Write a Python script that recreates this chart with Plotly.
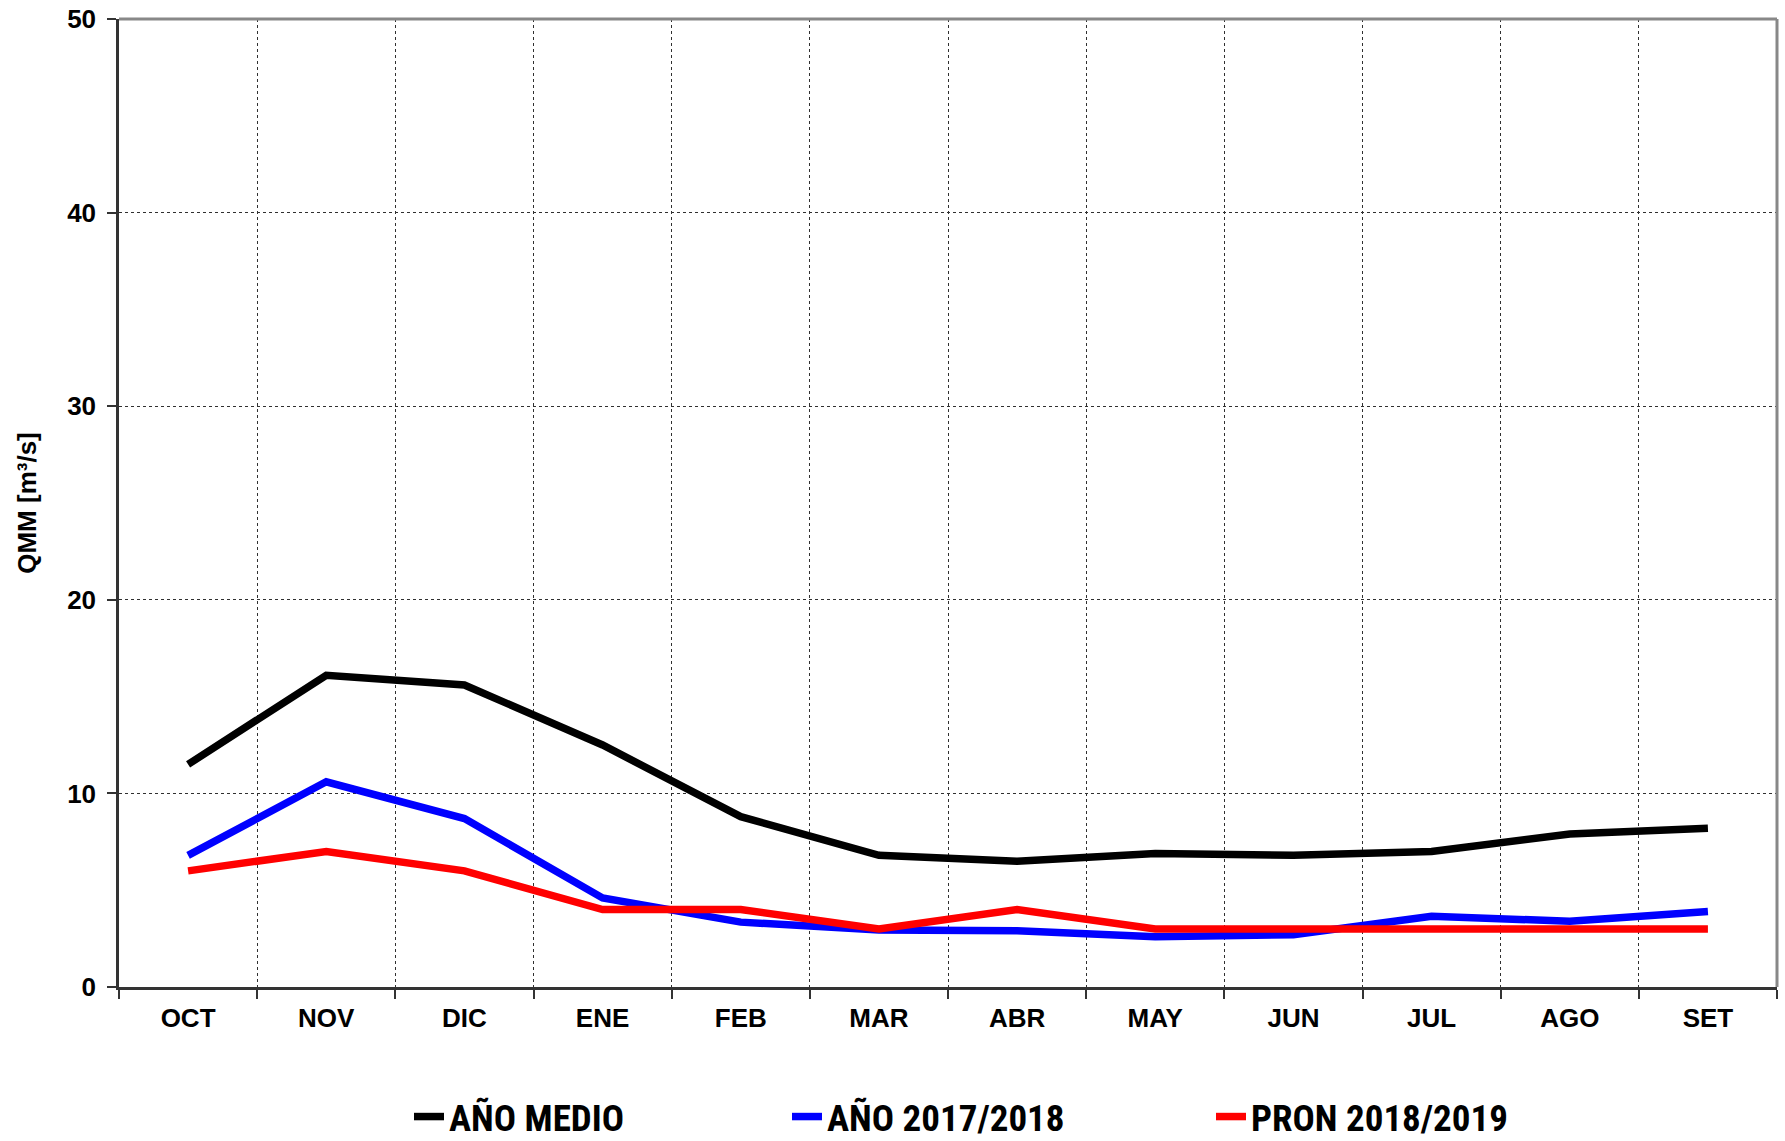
import plotly.graph_objects as go

months = ["OCT", "NOV", "DIC", "ENE", "FEB", "MAR", "ABR", "MAY", "JUN", "JUL", "AGO", "SET"]
ano_medio = [11.5, 16.1, 15.6, 12.5, 8.8, 6.8, 6.5, 6.9, 6.8, 7.0, 7.9, 8.2]
ano_2017_2018 = [6.8, 10.6, 8.7, 4.6, 3.35, 2.95, 2.9, 2.6, 2.7, 3.65, 3.4, 3.9]
pron_2018_2019 = [6.0, 7.0, 6.0, 4.0, 4.0, 3.0, 4.0, 3.0, 3.0, 3.0, 3.0, 3.0]
y_ticks = [0, 10, 20, 30, 40, 50]

W, H = 1785, 1141
ML, MR, MT, MB = 119, 8, 19, 154
PW = W - ML - MR
PH = H - MT - MB

series = [
    ("AÑO MEDIO", ano_medio, "#000000", "legend", 453),
    ("AÑO 2017/2018", ano_2017_2018, "#0000FF", "legend2", 831),
    ("PRON 2018/2019", pron_2018_2019, "#FF0000", "legend3", 1255),
]

fig = go.Figure()
legend_font = dict(family="Roboto Condensed, Liberation Sans Narrow, sans-serif", size=37, color="#000000", weight="bold")
for name, vals, color, lg, _ in series:
    fig.add_trace(go.Scatter(
        x=months, y=vals, mode="lines", name=name,
        line=dict(color=color, width=7.5), legend=lg,
    ))

layout_legends = {}
for name, vals, color, lg, text_x in series:
    layout_legends[lg] = dict(
        orientation="h", x=(text_x - 44 - ML) / PW, xanchor="left",
        y=-(1117 - (H - MB)) / PH, yanchor="middle",
        font=legend_font, bgcolor="rgba(0,0,0,0)", borderwidth=0,
        itemwidth=30, tracegroupgap=0,
    )

tick_font = dict(size=26, family="Liberation Sans, Arial, sans-serif", weight="bold", color="#000000")

fig.update_layout(
    width=W, height=H,
    margin=dict(l=ML, r=MR, t=MT, b=MB, pad=0, autoexpand=False),
    paper_bgcolor="white", plot_bgcolor="white",
    font=dict(family="Liberation Sans, Arial, sans-serif", color="#000000"),
    showlegend=True,
    **layout_legends,
)

fig.update_xaxes(
    type="category", range=[-0.5, 11.5], automargin=False,
    tickson="boundaries", ticks="outside", ticklen=9, tickwidth=1.5, tickcolor="#333333",
    showgrid=True, gridcolor="#303030", gridwidth=1, griddash="dot",
    showline=True, linecolor="#333333", linewidth=2.5,
    tickfont=tick_font,
    ticklabelstandoff=6,
    zeroline=False,
)
fig.update_yaxes(
    range=[0, 50], tickvals=y_ticks, ticktext=[str(v) for v in y_ticks], automargin=False,
    ticks="outside", ticklen=9, tickwidth=1.5, tickcolor="#333333",
    showgrid=True, gridcolor="#303030", gridwidth=1, griddash="dot",
    showline=True, linecolor="#333333", linewidth=2.5,
    tickfont=tick_font,
    ticklabelstandoff=6,
    zeroline=False,
    title=dict(text="QMM [m³/s]", font=dict(size=26, family="Liberation Sans, Arial, sans-serif", weight="bold", color="#000000"), standoff=24),
)

# top and right border (gray)
fig.add_shape(type="line", xref="paper", yref="paper", x0=0, x1=1, y0=1, y1=1,
              line=dict(color="#888888", width=3), layer="above")
fig.add_shape(type="line", xref="paper", yref="paper", x0=1, x1=1, y0=0, y1=1,
              line=dict(color="#888888", width=3), layer="above")

fig.write_html("out.html", config={"displayModeBar": False},
               post_script="document.body.style.margin='0px';document.body.style.overflow='hidden';")
